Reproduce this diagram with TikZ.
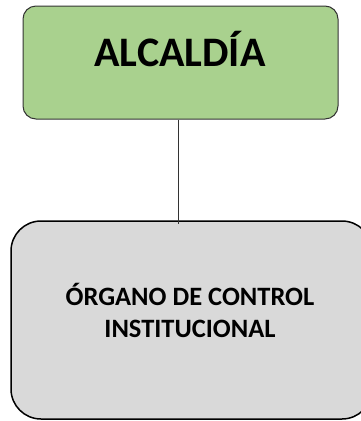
\documentclass[tikz,border=0pt]{standalone}
\usepackage{fontspec}
\setmainfont{Carlito}
\definecolor{verde}{HTML}{A9D18E}
\definecolor{gris}{HTML}{D9D9D9}
\tikzset{
    caja/.style={draw,rounded corners=#1,inner sep=0pt},
    titulo/.style={font=\bfseries\fontsize{42}{50}\selectfont},
    texto/.style={font=\bfseries\fontsize{26.5}{32}\selectfont,align=center}
}
\begin{document}
\begin{tikzpicture}[x=1pt,y=-1pt]
\useasboundingbox (0,0) rectangle (360,421);
\node[caja=13pt,fill=verde,draw=black!80,line width=1pt,minimum width=315pt,minimum height=113pt] at (180.5,62.5)(alcaldia){};
\node[titulo,anchor=base] at (180,66)(alcaldiaTxt){ALCALDÍA};
\node[caja=30pt,fill=gris,line width=1.5pt,minimum width=361pt,minimum height=198pt] at (191.5,320)(organo){};
\node[texto] at (190,310)(organoTxt){ÓRGANO DE CONTROL\\INSTITUCIONAL};
\coordinate (enlace) at (178.7,224);
\draw[line width=1pt,black!80] (alcaldia.south -| enlace) -- (enlace);
\end{tikzpicture}
\end{document}
